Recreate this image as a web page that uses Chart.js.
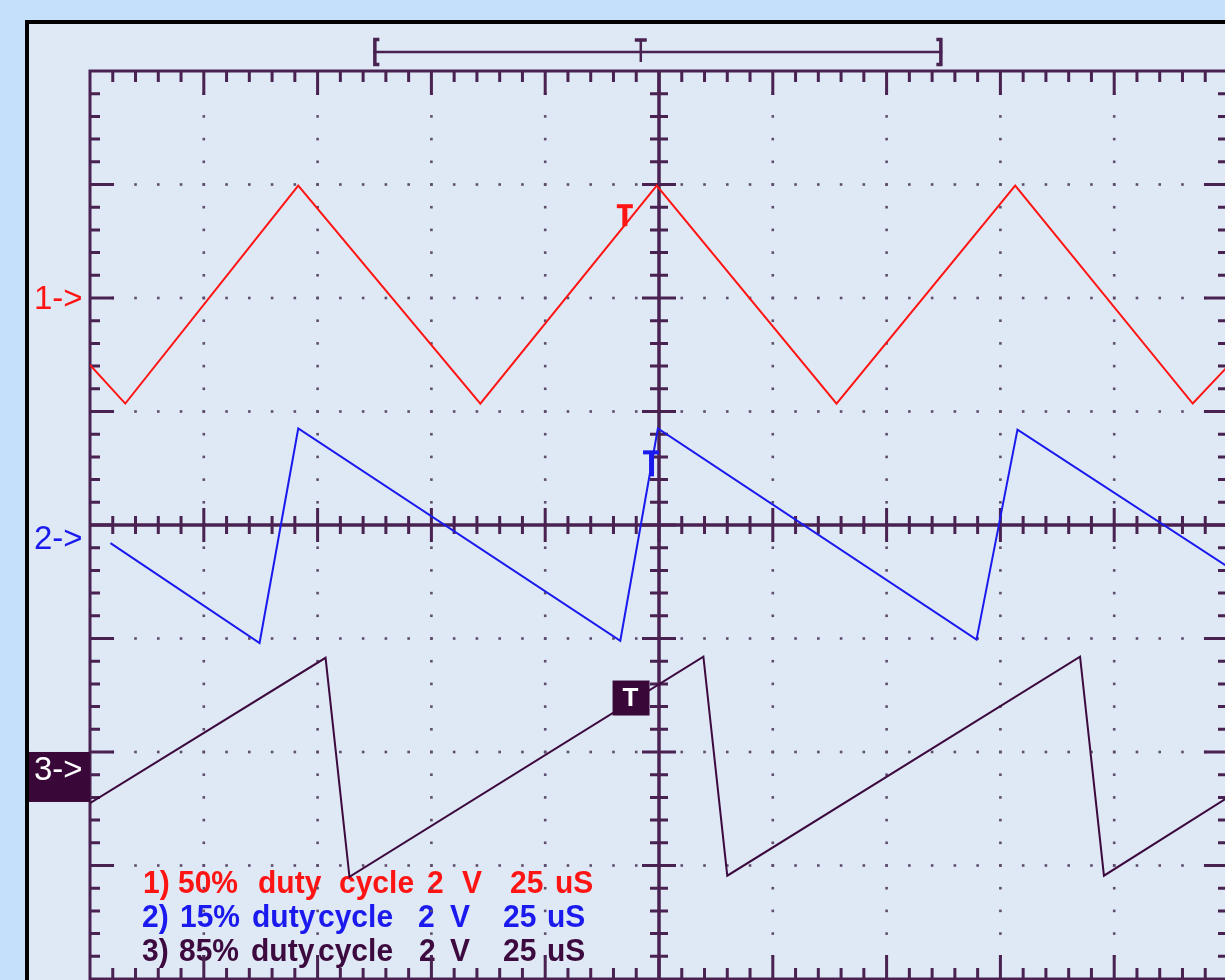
<!DOCTYPE html>
<html>
<head>
<meta charset="utf-8">
<title>Duty cycle traces</title>
<script src="https://cdn.jsdelivr.net/npm/chart.js@4.4.1/dist/chart.umd.min.js"></script>
<style>
    html, body { margin: 0; padding: 0; overflow: hidden; background: #c5e0fb; }
    #wrap { position: absolute; left: 0; top: 0; width: 1240px; height: 1000px; }
</style>
</head>
<body>
<div id="wrap"><canvas id="scope" width="1240" height="1000"></canvas></div>
<script>
// screen units: 10 time divisions across, 8 volt divisions tall (0 = centre line)
const ch1Time  = [0, 0.31, 1.83, 3.43, 4.98, 6.56, 8.13, 9.69, 10];
const ch1Level = [1.41, 1.07, 2.99, 1.07, 2.99, 1.07, 2.99, 1.07, 1.40];

const ch2Time  = [0.18, 1.49, 1.83, 4.66, 4.99, 7.79, 8.15, 10];
const ch2Level = [-0.16, -1.04, 0.85, -1.02, 0.85, -1.01, 0.84, -0.37];

const ch3Time  = [0, 2.07, 2.28, 5.39, 5.60, 8.70, 8.91, 10];
const ch3Level = [-2.45, -1.17, -3.10, -1.16, -3.09, -1.16, -3.09, -2.40];

const channelTags   = ['1->', '2->', '3->'];
const channelLevels = [1.98, -0.13, -2.22];

const legendRows = [
    ['1)', '50%', 'duty', 'cycle', '2', 'V', '25', 'uS'],
    ['2)', '15%', 'duty', 'cycle', '2', 'V', '25', 'uS'],
    ['3)', '85%', 'duty', 'cycle', '2', 'V', '25', 'uS']
];

// memory window bracket and trigger point (time divisions)
const windowSpan = [2.49, 7.49];
const triggerTime = 4.84;

const RED = '#ff1414';
const BLUE = '#1a1aee';
const DARK = '#3c0a3e';
const GRID = '#4a2252';

function toPoints(times, levels) {
    return times.map(function(t, i) { return { x: t, y: levels[i] }; });
}

const panelPlugin = {
    id: 'panel',
    beforeDraw: function(chart) {
        const ctx = chart.ctx;
        ctx.save();
        ctx.fillStyle = '#c5e0fb';
        ctx.fillRect(0, 0, chart.width, chart.height);
        ctx.fillStyle = '#000000';
        ctx.fillRect(25, 20, chart.width, chart.height);
        ctx.fillStyle = '#dfe9f6';
        ctx.fillRect(29, 24, chart.width, chart.height);

        // legend text sits under the graticule, like on the scope screen
        const colors = [RED, BLUE, DARK];
        const wordX = [
            [143, 178, 258, 339, 427, 462, 510, 555],
            [142, 180, 252, 318, 418, 450, 503, 547],
            [142, 179, 251, 318, 419, 450, 503, 547]
        ];
        const baselines = [893, 927, 961];
        ctx.font = 'bold 30px "Liberation Sans", Arial, sans-serif';
        ctx.textBaseline = 'alphabetic';
        legendRows.forEach(function(row, r) {
            ctx.fillStyle = colors[r];
            row.forEach(function(word, w) {
                ctx.save();
                ctx.translate(wordX[r][w], baselines[r]);
                ctx.scale(1, 1.05);
                ctx.fillText(word, 0, 0);
                ctx.restore();
            });
        });
        ctx.restore();
    }
};

const graticulePlugin = {
    id: 'graticule',
    beforeDatasetsDraw: function(chart) {
        const ctx = chart.ctx;
        const x = chart.scales.x, y = chart.scales.y;
        const a = chart.chartArea;
        const cx = x.getPixelForValue(5), cy = y.getPixelForValue(0);
        ctx.save();

        // dotted major lines
        ctx.fillStyle = '#5e4d6c';
        for (let i = 1; i < 10; i++) {
            if (i === 5) continue;
            const px = x.getPixelForValue(i);
            for (let k = 1; k < 40; k++) {
                const py = y.getPixelForValue(-4 + k * 0.2);
                ctx.fillRect(px - 1.3, py - 1.3, 2.6, 2.6);
            }
        }
        for (let j = -3; j <= 3; j++) {
            if (j === 0) continue;
            const py = y.getPixelForValue(j);
            for (let k = 1; k < 50; k++) {
                const px = x.getPixelForValue(k * 0.2);
                ctx.fillRect(px - 1.3, py - 1.3, 2.6, 2.6);
            }
        }

        ctx.strokeStyle = GRID;
        ctx.lineCap = 'butt';

        // border
        ctx.lineWidth = 3;
        ctx.strokeRect(a.left, a.top, a.right - a.left, a.bottom - a.top);

        // centre cross
        ctx.lineWidth = 3.5;
        ctx.beginPath();
        ctx.moveTo(cx, a.top); ctx.lineTo(cx, a.bottom);
        ctx.moveTo(a.left, cy); ctx.lineTo(a.right, cy);
        ctx.stroke();

        ctx.lineWidth = 3;
        ctx.beginPath();
        for (let k = 1; k < 50; k++) {
            const px = x.getPixelForValue(k * 0.2);
            const major = k % 5 === 0;
            const edge = major ? 24 : 11;
            const mid = major ? 17 : 9;
            ctx.moveTo(px, a.top); ctx.lineTo(px, a.top + edge);
            ctx.moveTo(px, a.bottom); ctx.lineTo(px, a.bottom - edge);
            ctx.moveTo(px, cy - mid); ctx.lineTo(px, cy + mid);
        }
        for (let k = 1; k < 40; k++) {
            const py = y.getPixelForValue(-4 + k * 0.2);
            const major = k % 5 === 0;
            const edge = major ? 24 : 10;
            const mid = major ? 17 : 9;
            ctx.moveTo(a.left, py); ctx.lineTo(a.left + edge, py);
            ctx.moveTo(a.right, py); ctx.lineTo(a.right - edge, py);
            ctx.moveTo(cx - mid, py); ctx.lineTo(cx + mid, py);
        }
        ctx.stroke();

        // memory window bracket above the grid
        const l = x.getPixelForValue(windowSpan[0]);
        const r = x.getPixelForValue(windowSpan[1]);
        const t = x.getPixelForValue(triggerTime);
        ctx.lineWidth = 2.5;
        ctx.beginPath();
        ctx.moveTo(l, 52); ctx.lineTo(r, 52);
        ctx.stroke();
        ctx.lineWidth = 3.5;
        ctx.beginPath();
        ctx.moveTo(l + 1.5, 38); ctx.lineTo(l + 1.5, 66);
        ctx.moveTo(l, 39.5); ctx.lineTo(l + 6, 39.5);
        ctx.moveTo(l, 64.5); ctx.lineTo(l + 6, 64.5);
        ctx.moveTo(r - 1.5, 38); ctx.lineTo(r - 1.5, 66);
        ctx.moveTo(r, 39.5); ctx.lineTo(r - 6, 39.5);
        ctx.moveTo(r, 64.5); ctx.lineTo(r - 6, 64.5);
        ctx.moveTo(t - 6, 40); ctx.lineTo(t + 6, 40);
        ctx.stroke();
        ctx.lineWidth = 2.5;
        ctx.beginPath();
        ctx.moveTo(t, 40); ctx.lineTo(t, 62);
        ctx.stroke();
        ctx.restore();
    },
    afterDatasetsDraw: function(chart) {
        const ctx = chart.ctx;
        const x = chart.scales.x, y = chart.scales.y;
        ctx.save();

        // channel ground markers
        ctx.font = '33px "Liberation Sans", Arial, sans-serif';
        ctx.textBaseline = 'middle';
        ctx.textAlign = 'left';
        ctx.fillStyle = RED;
        ctx.fillText(channelTags[0], 34, y.getPixelForValue(channelLevels[0]));
        ctx.fillStyle = BLUE;
        ctx.fillText(channelTags[1], 34, y.getPixelForValue(channelLevels[1]));
        const by = y.getPixelForValue(channelLevels[2]);
        ctx.fillStyle = '#3a0838';
        ctx.fillRect(29, by - 25, 61, 50);
        ctx.fillStyle = '#ffffff';
        ctx.fillText(channelTags[2], 34, by - 6);

        // trigger marks
        let tx = x.getPixelForValue(4.70), ty = y.getPixelForValue(2.80);
        ctx.fillStyle = RED;
        ctx.fillRect(tx - 8, ty - 3, 16, 4);
        ctx.fillRect(tx - 2.5, ty, 5, 19);

        tx = x.getPixelForValue(4.93); ty = y.getPixelForValue(0.64);
        ctx.fillStyle = BLUE;
        ctx.fillRect(tx - 8, ty - 2, 16, 4);
        ctx.fillRect(tx - 2, ty, 5, 24);

        tx = x.getPixelForValue(4.75); ty = y.getPixelForValue(-1.52);
        ctx.fillStyle = '#3a0838';
        ctx.fillRect(tx - 18, ty - 17, 37, 35);
        ctx.fillStyle = '#ffffff';
        ctx.font = 'bold 26px "Liberation Sans", Arial, sans-serif';
        ctx.textAlign = 'center';
        ctx.fillText('T', tx, ty + 1);
        ctx.restore();
    }
};

new Chart(document.getElementById('scope'), {
    type: 'scatter',
    data: {
        datasets: [
            { label: 'Ch1', data: toPoints(ch1Time, ch1Level), borderColor: RED },
            { label: 'Ch2', data: toPoints(ch2Time, ch2Level), borderColor: BLUE },
            { label: 'Ch3', data: toPoints(ch3Time, ch3Level), borderColor: DARK }
        ]
    },
    options: {
        responsive: false,
        animation: false,
        devicePixelRatio: 1,
        showLine: true,
        elements: {
            line: { borderWidth: 2, tension: 0 },
            point: { radius: 0, hoverRadius: 0 }
        },
        layout: { padding: { left: 90, top: 71, right: 12, bottom: 21 } },
        scales: {
            x: { type: 'linear', min: 0, max: 10, display: false },
            y: { type: 'linear', min: -4, max: 4, display: false }
        },
        plugins: {
            legend: { display: false },
            tooltip: { enabled: false }
        }
    },
    plugins: [panelPlugin, graticulePlugin]
});
</script>
</body>
</html>
